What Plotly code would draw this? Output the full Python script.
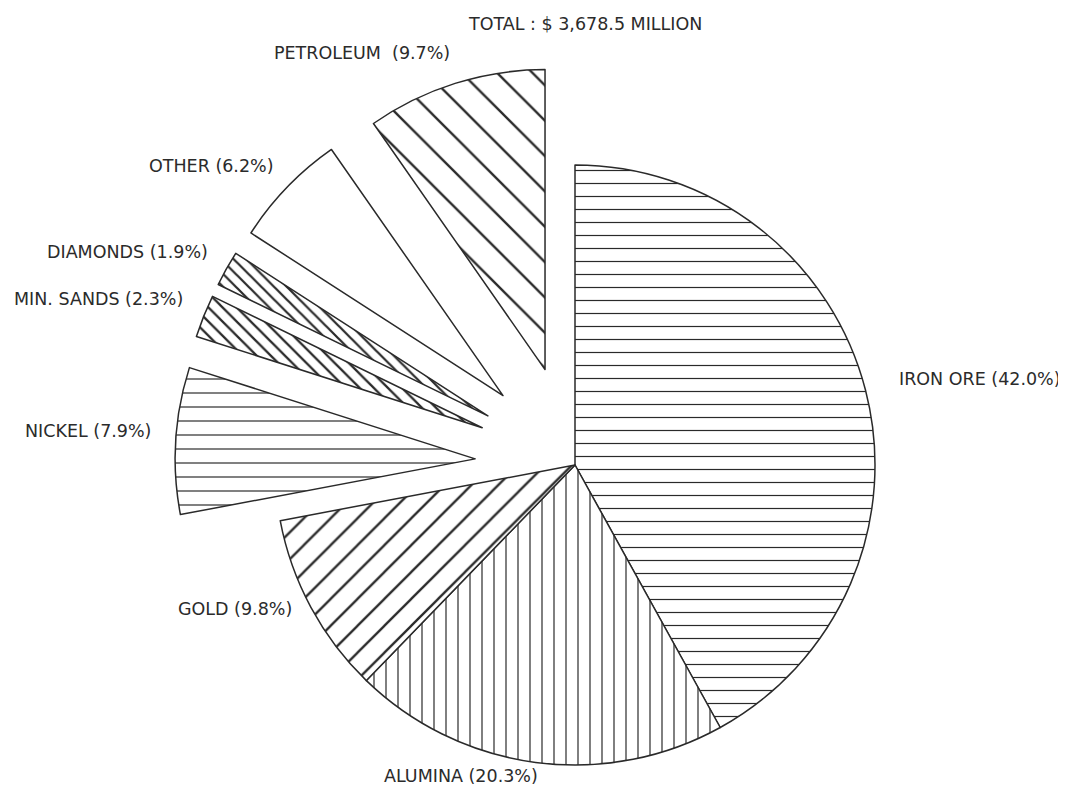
import math
import plotly.graph_objects as go

# ---- data ----
labels = ["IRON ORE", "ALUMINA", "GOLD", "NICKEL", "MIN. SANDS", "DIAMONDS", "OTHER", "PETROLEUM"]
shares = [42.0, 20.3, 9.8, 7.9, 2.3, 1.9, 6.2, 9.7]
exploded = [False, False, False, True, True, True, True, True]
total_text = "TOTAL : $ 3,678.5 MILLION"

# ---- style ----
OFF = 8                             # page body margin of the html page
W, H = 1066 - OFF, 787 - OFF
CX, CY, R = 575 - OFF, 465 - OFF, 300   # pie centre / radius in pixels
PULL = 1 / 3                        # explode distance as a fraction of R
hatch_shape = ["-", "|", "/", "-", "\\", "\\", "", "\\"]
hatch_size = [13, 12, 19, 14, 10, 9, 10, 25]
HATCH_LW = 1.2
INK = "#2a2a2a"
TXT = "#2b2b2b"
FONT = "DejaVu Sans"
FSIZE = 17.5

# label anchor (left x, centre y) in page pixels
label_pos = {
    "IRON ORE": (897, 379),
    "ALUMINA": (382, 776),
    "GOLD": (176, 609),
    "NICKEL": (23, 431),
    "MIN. SANDS": (12, 299),
    "DIAMONDS": (45, 252),
    "OTHER": (147, 166),
    "PETROLEUM": (272, 53),
}
title_pos = (466, 24)


def solidity(shape, size):
    if shape in ("-", "|"):
        return min(1.0, HATCH_LW / size)
    if shape in ("/", "\\"):
        return 1 - (1 - HATCH_LW / size) ** 2
    return 0.2


fig = go.Figure()
total = sum(shares)
n = len(shares)
cum = 0.0
for i in range(n):
    mid = 2 * math.pi * (cum + shares[i] / 2) / total
    cum += shares[i]
    d = PULL * R if exploded[i] else 0.0
    cx = CX + d * math.sin(mid)
    cy = CY - d * math.cos(mid)
    dom_x = [(cx - R) / W, (cx + R) / W]
    dom_y = [1 - (cy + R) / H, 1 - (cy - R) / H]
    colors = ["white" if j == i else "rgba(0,0,0,0)" for j in range(n)]
    lw = [1.5 if j == i else 0 for j in range(n)]
    shapes = [hatch_shape[i] if j == i else "" for j in range(n)]
    sizes = [hatch_size[i] for j in range(n)]
    sols = [solidity(hatch_shape[i], hatch_size[i]) for j in range(n)]
    fig.add_trace(go.Pie(
        labels=labels,
        values=shares,
        sort=False,
        direction="clockwise",
        rotation=0,
        domain=dict(x=dom_x, y=dom_y),
        marker=dict(
            colors=colors,
            line=dict(color=INK, width=lw),
            pattern=dict(shape=shapes, size=sizes, solidity=sols,
                         fgcolor=INK, fillmode="replace"),
        ),
        textinfo="none",
        hoverinfo="label+percent",
        showlegend=False,
    ))

annotations = []
for lab, val in zip(labels, shares):
    x, y = label_pos[lab]
    sep = "  " if lab == "PETROLEUM" else " "
    annotations.append(dict(
        text=f"{lab}{sep}({val:.1f}%)",
        x=(x - OFF) / W, y=1 - (y - OFF) / H, xref="paper", yref="paper",
        xanchor="left", yanchor="middle", showarrow=False,
        font=dict(family=FONT, size=FSIZE, color=TXT),
    ))
annotations.append(dict(
    text=total_text, x=(title_pos[0] - OFF) / W, y=1 - (title_pos[1] - OFF) / H,
    xref="paper", yref="paper", xanchor="left", yanchor="middle",
    showarrow=False, font=dict(family=FONT, size=FSIZE, color=TXT),
))

fig.update_layout(
    width=W, height=H,
    margin=dict(l=0, r=0, t=0, b=0),
    paper_bgcolor="white",
    plot_bgcolor="white",
    annotations=annotations,
)

fig.write_html("out.html")
